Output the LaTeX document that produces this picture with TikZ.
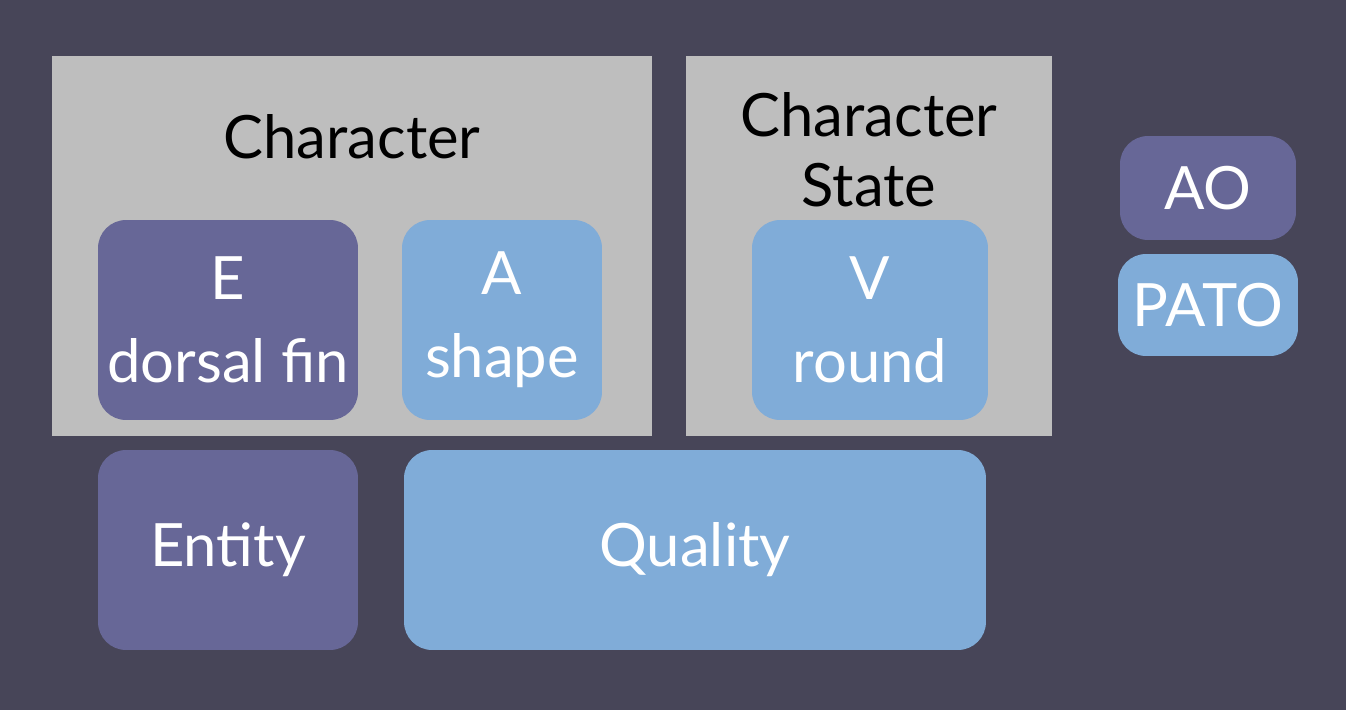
\documentclass[tikz,border=0pt]{standalone}
\usepackage{fontspec}
\setmainfont{Lato}
\usetikzlibrary{positioning}

\definecolor{bgdark}{HTML}{474558}
\definecolor{panelgray}{HTML}{BEBEBE}
\definecolor{aopurple}{HTML}{676797}
\definecolor{patoblue}{HTML}{80ACD8}

\begin{document}
\begin{tikzpicture}[x=0.02cm, y=-0.02cm,
    panel/.style={fill=panelgray, draw=none, inner sep=0pt},
    term/.style={rounded corners=0.56cm, draw=none, inner sep=0pt, text=white, align=center,
        font=\fontsize{34}{47}\selectfont},
    eterm/.style={term, fill=aopurple},
    qterm/.style={term, fill=patoblue},
    title/.style={text=black, align=center, font=\fontsize{34}{40}\selectfont}]

% Background
\fill[bgdark] (0,0) rectangle (1346,710);
\useasboundingbox (0,0) rectangle (1346,710);

% Grey panels
\node[panel, minimum width=12cm, minimum height=7.6cm] (charpanel) at (352,246) {};
\node[panel, minimum width=7.32cm, minimum height=7.6cm] (statepanel) at (869,246) {};

% Panel titles
\node[title] (charlbl) at (352,137) {Character};
\node[title] (statelbl) at (869,150) {Character\\State};

% EQ terms inside the panels
\node[eterm, minimum width=5.2cm, minimum height=4cm] (ebox) at (228,320) {E\\dorsal fin};
\node[qterm, minimum width=4cm, minimum height=4cm] (abox) at (502,320) {A\\shape};
\node[qterm, minimum width=4.72cm, minimum height=4cm] (vbox) at (870,320) {V\\round};

% Entity and Quality
\node[eterm, minimum width=5.2cm, minimum height=4cm] (entity) at (228,550) {Entity};
\node[qterm, minimum width=11.64cm, minimum height=4cm] (quality) at (695,550) {Quality};

% Ontologies
\node[eterm, minimum width=3.52cm, minimum height=2.08cm] (ao) at (1208,188) {AO};
\node[qterm, minimum width=3.6cm, minimum height=2.04cm] (pato) at (1208,305) {PATO};

\end{tikzpicture}
\end{document}
